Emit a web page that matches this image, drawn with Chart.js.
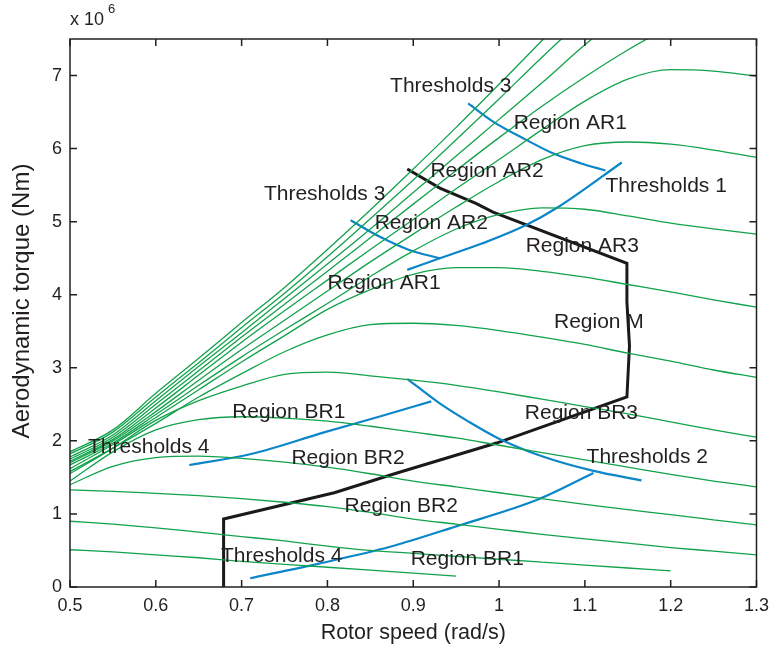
<!DOCTYPE html>
<html>
<head>
<meta charset="utf-8">
<title>Aerodynamic torque vs rotor speed</title>
<script src="https://cdn.jsdelivr.net/npm/chart.js@4.4.1/dist/chart.umd.min.js"></script>
<style>
    body { margin: 0; background: #fff; }
    canvas { display: block; }
</style>
</head>
<body>
<canvas id="torqueChart" width="777" height="651"></canvas>
<script>
// rotor speed grid (rad/s) shared by all torque curves
const speedGrid = [0.5, 0.55, 0.6, 0.65, 0.7, 0.75, 0.8, 0.85, 0.9, 0.95, 1.0, 1.05, 1.1, 1.15, 1.2, 1.25, 1.3];

// aerodynamic torque (x 10^6 Nm), one curve per wind speed, lowest first
const torque01 = [0.51, 0.48, 0.44, 0.40, 0.35, 0.31, 0.27, 0.23, 0.19, 0.15];
const torque02 = [0.90, 0.86, 0.81, 0.75, 0.69, 0.63, 0.56, 0.50, 0.46, 0.42, 0.38, 0.34, 0.30, 0.26, 0.22];
const torque03 = [1.33, 1.31, 1.28, 1.25, 1.21, 1.16, 1.10, 1.02, 0.93, 0.86, 0.79, 0.72, 0.66, 0.60, 0.54, 0.49, 0.44];
const torque04 = [1.40, 1.65, 1.77, 1.79, 1.76, 1.71, 1.64, 1.55, 1.45, 1.37, 1.29, 1.21, 1.13, 1.06, 0.99, 0.92, 0.85];
const torque05 = [1.45, 1.85, 2.15, 2.29, 2.33, 2.31, 2.27, 2.20, 2.12, 2.04, 1.94, 1.84, 1.74, 1.64, 1.54, 1.45, 1.37];
const torque06 = [1.55, 1.90, 2.28, 2.55, 2.75, 2.91, 2.94, 2.89, 2.83, 2.76, 2.67, 2.57, 2.47, 2.37, 2.26, 2.15, 2.05];
const torque07 = [1.58, 1.90, 2.24, 2.60, 2.92, 3.22, 3.45, 3.59, 3.61, 3.58, 3.51, 3.42, 3.32, 3.20, 3.09, 2.97, 2.87];
const torque08 = [1.62, 1.95, 2.32, 2.70, 3.08, 3.44, 3.80, 4.07, 4.28, 4.37, 4.37, 4.32, 4.24, 4.14, 4.04, 3.93, 3.83];
const torque09 = [1.67, 1.97, 2.36, 2.76, 3.15, 3.52, 3.88, 4.25, 4.60, 4.90, 5.10, 5.19, 5.17, 5.08, 4.98, 4.90, 4.83];
const torque10 = [1.70, 2.00, 2.40, 2.83, 3.25, 3.65, 4.05, 4.45, 4.83, 5.20, 5.55, 5.85, 6.04, 6.09, 6.06, 5.98, 5.88];
const torque11 = [1.72, 2.02, 2.45, 2.90, 3.35, 3.78, 4.20, 4.62, 5.03, 5.45, 5.85, 6.26, 6.65, 6.95, 7.08, 7.06, 6.99];
const torque12 = [1.75, 2.05, 2.50, 2.96, 3.42, 3.87, 4.32, 4.78, 5.24, 5.70, 6.15, 6.58, 6.98, 7.35, 7.68];
const torque13 = [1.78, 2.08, 2.55, 3.02, 3.48, 3.95, 4.42, 4.90, 5.40, 5.90, 6.40, 6.90, 7.42, 7.90];
const torque14 = [1.82, 2.12, 2.60, 3.07, 3.55, 4.02, 4.52, 5.04, 5.57, 6.12, 6.68, 7.25, 7.80];
const torque15 = [1.85, 2.15, 2.65, 3.13, 3.62, 4.10, 4.62, 5.16, 5.72, 6.29, 6.88, 7.48, 8.10];

// threshold curves (blue)
const thr1Speed = [0.964, 0.993, 1.03, 1.062, 1.095, 1.124];
const thr1Torque = [6.62, 6.37, 6.13, 5.94, 5.80, 5.70];
const thr1bSpeed = [0.893, 0.931, 0.98, 1.031, 1.069, 1.143];
const thr1bTorque = [4.34, 4.50, 4.70, 4.95, 5.20, 5.81];
const thr3Speed = [0.827, 0.86, 0.896, 0.931];
const thr3Torque = [5.02, 4.80, 4.61, 4.50];
const thr2Speed = [0.893, 0.93, 0.965, 1.0, 1.05, 1.11, 1.166];
const thr2Torque = [2.85, 2.52, 2.26, 2.03, 1.79, 1.59, 1.46];
const thr4Speed = [0.639, 0.711, 0.797, 0.86, 0.921];
const thr4Torque = [1.67, 1.82, 2.12, 2.33, 2.54];
const thr4bSpeed = [0.71, 0.79, 0.873, 0.95, 1.046, 1.11];
const thr4bTorque = [0.12, 0.32, 0.55, 0.83, 1.20, 1.56];

// operating trajectory (black)
const pathSpeed = [0.893, 0.931, 0.973, 0.993, 1.149, 1.149, 1.152, 1.149, 0.997, 0.881, 0.808, 0.679, 0.679];
const pathTorque = [5.72, 5.46, 5.25, 5.13, 4.43, 3.90, 3.30, 2.60, 1.97, 1.56, 1.29, 0.93, 0];

const xTicks = [0.5, 0.6, 0.7, 0.8, 0.9, 1.0, 1.1, 1.2, 1.3];
const yTicks = [0, 1, 2, 3, 4, 5, 6, 7];

const regionLabels = [
    { text: 'Thresholds 3', x: 0.873, y: 6.85 },
    { text: 'Region AR1', x: 1.017, y: 6.35 },
    { text: 'Region AR2', x: 0.920, y: 5.69 },
    { text: 'Thresholds 1', x: 1.124, y: 5.49 },
    { text: 'Thresholds 3', x: 0.726, y: 5.38 },
    { text: 'Region AR2', x: 0.855, y: 4.98 },
    { text: 'Region AR3', x: 1.031, y: 4.66 },
    { text: 'Region AR1', x: 0.800, y: 4.16 },
    { text: 'Region M', x: 1.064, y: 3.63 },
    { text: 'Region BR1', x: 0.689, y: 2.39 },
    { text: 'Region BR3', x: 1.030, y: 2.38 },
    { text: 'Thresholds 4', x: 0.521, y: 1.92 },
    { text: 'Thresholds 2', x: 1.102, y: 1.78 },
    { text: 'Region BR2', x: 0.758, y: 1.76 },
    { text: 'Region BR2', x: 0.820, y: 1.11 },
    { text: 'Thresholds 4', x: 0.676, y: 0.42 },
    { text: 'Region BR1', x: 0.897, y: 0.38 }
];

const FONT = '"Liberation Sans", Arial, Helvetica, sans-serif';
const INK = '#231f20';

function points(xs, ys) {
    return ys.map((v, i) => ({ x: xs[i], y: v }));
}

const greenCurves = [torque01, torque02, torque03, torque04, torque05, torque06, torque07, torque08,
    torque09, torque10, torque11, torque12, torque13, torque14, torque15];

const datasets = greenCurves.map(vals => ({
    data: points(speedGrid, vals),
    borderColor: '#12a24c',
    borderWidth: 1.3,
    cubicInterpolationMode: 'monotone'
}));

[[thr1Speed, thr1Torque], [thr1bSpeed, thr1bTorque], [thr3Speed, thr3Torque],
 [thr2Speed, thr2Torque], [thr4Speed, thr4Torque], [thr4bSpeed, thr4bTorque]].forEach(([xs, ys]) => {
    datasets.push({
        data: points(xs, ys),
        borderColor: '#0a86c9',
        borderWidth: 2.2,
        cubicInterpolationMode: 'monotone'
    });
});

datasets.push({
    data: points(pathSpeed, pathTorque),
    borderColor: '#1a1a1a',
    borderWidth: 3,
    tension: 0
});

// box with inward ticks, region labels and axis titles
const frameAndText = {
    id: 'frameAndText',
    afterDatasetsDraw(chart) {
        const { ctx, chartArea: a, scales: { x, y } } = chart;
        ctx.save();

        ctx.strokeStyle = INK;
        ctx.lineWidth = 1.5;
        ctx.strokeRect(a.left, a.top, a.right - a.left, a.bottom - a.top);
        ctx.beginPath();
        xTicks.forEach(v => {
            const px = x.getPixelForValue(v);
            ctx.moveTo(px, a.bottom); ctx.lineTo(px, a.bottom - 7);
            ctx.moveTo(px, a.top); ctx.lineTo(px, a.top + 7);
        });
        yTicks.forEach(v => {
            const py = y.getPixelForValue(v);
            ctx.moveTo(a.left, py); ctx.lineTo(a.left + 7, py);
            ctx.moveTo(a.right, py); ctx.lineTo(a.right - 7, py);
        });
        ctx.stroke();

        ctx.fillStyle = INK;
        ctx.textBaseline = 'middle';
        ctx.textAlign = 'left';
        ctx.font = '21px ' + FONT;
        regionLabels.forEach(l => {
            ctx.fillText(l.text, x.getPixelForValue(l.x), y.getPixelForValue(l.y));
        });

        // axis titles
        ctx.textAlign = 'center';
        ctx.font = '21.5px ' + FONT;
        ctx.fillText('Rotor speed (rad/s)', (a.left + a.right) / 2, 633);
        ctx.save();
        ctx.translate(22, 301);
        ctx.rotate(-Math.PI / 2);
        ctx.font = '24px ' + FONT;
        ctx.fillText('Aerodynamic torque (Nm)', 0, 0);
        ctx.restore();

        // exponent
        ctx.textAlign = 'left';
        ctx.font = '18px ' + FONT;
        ctx.fillText('x 10', a.left, 20);
        ctx.font = '13px ' + FONT;
        ctx.fillText('6', a.left + 38, 9);

        ctx.restore();
    }
};

new Chart(document.getElementById('torqueChart').getContext('2d'), {
    type: 'scatter',
    data: { datasets: datasets },
    options: {
        responsive: false,
        animation: false,
        events: [],
        layout: { padding: { top: 39, right: 14, left: 0, bottom: 0 } },
        elements: {
            point: { radius: 0 },
            line: { fill: false, capBezierPoints: false }
        },
        datasets: { scatter: { showLine: true } },
        plugins: {
            legend: { display: false },
            tooltip: { enabled: false }
        },
        scales: {
            x: {
                type: 'linear',
                min: 0.5,
                max: 1.3,
                afterBuildTicks: s => { s.ticks = xTicks.map(v => ({ value: v })); },
                afterFit: s => { s.height = 64; },
                grid: { display: false, drawTicks: false },
                border: { display: false },
                ticks: {
                    padding: 8,
                    color: INK,
                    font: { family: FONT, size: 18 },
                    maxRotation: 0,
                    callback: v => String(Math.round(v * 10) / 10)
                }
            },
            y: {
                type: 'linear',
                min: 0,
                max: 7.5,
                afterBuildTicks: s => { s.ticks = yTicks.map(v => ({ value: v })); },
                afterFit: s => { s.width = 70; },
                grid: { display: false, drawTicks: false },
                border: { display: false },
                ticks: {
                    padding: 8,
                    color: INK,
                    font: { family: FONT, size: 18 },
                    callback: v => String(v)
                }
            }
        }
    },
    plugins: [frameAndText]
});
</script>
</body>
</html>
